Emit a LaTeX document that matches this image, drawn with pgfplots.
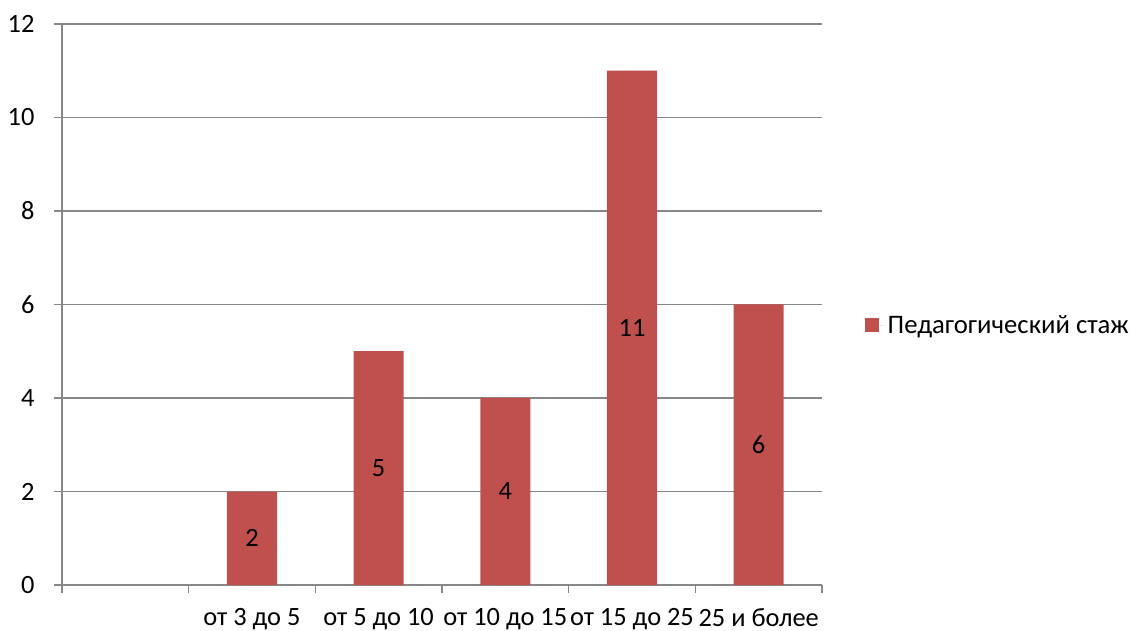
\documentclass[border=0pt]{standalone}
\usepackage{fontspec}
\setmainfont{Carlito}
\usepackage{pgfplots}
\pgfplotsset{compat=1.18}
\definecolor{barred}{HTML}{C0504D}
\definecolor{gridgray}{HTML}{878787}
\begin{document}
\begin{tikzpicture}[x=1bp,y=1bp]
\begin{axis}[
    scale only axis,
    at={(0,0)}, anchor=south west,
    width=760bp, height=561bp,
    xmin=-0.5, xmax=5.5,
    ymin=0, ymax=12,
    ytick={0,2,...,12},
    xtick={-0.5,0.5,...,5.5},
    xticklabels={},
    extra x ticks={1,2,3,4,5},
    extra x tick labels={от 3 до 5,от 5 до 10,от 10 до 15,от 15 до 25,25 и более},
    extra x tick style={major tick length=0pt, grid=none},
    axis lines*=left,
    axis line style={gridgray, line width=1.5pt},
    ymajorgrids=true,
    grid style={gridgray, line width=1.5pt},
    tick style={gridgray, line width=1.5pt},
    tick align=outside,
    major tick length=8bp,
    font=\fontsize{26.5}{30}\selectfont,
    tick label style={font=\fontsize{26.5}{30}\selectfont},
    /pgf/number format/assume math mode=true,
    xticklabel style={yshift=-20bp, inner xsep=0pt},
    yticklabel style={xshift=-16bp},
    legend style={at={(1.052,0.463)}, anchor=west, draw=none, fill=none,
        font=\fontsize{26.8}{30}\selectfont},
    legend image code/.code={\path (0bp,0bp) -- (21bp,0bp);
        \fill[barred] (0bp,-7bp) rectangle (14bp,7bp);},
]
\addplot[ybar, bar width=0.395, fill=barred, draw=none]
    coordinates {(1,2) (2,5) (3,4) (4,11) (5,6)};
\addlegendentry{Педагогический стаж}
\addplot[draw=none, mark=none, forget plot,
    nodes near coords, point meta=explicit symbolic,
    every node near coord/.append style={anchor=center, font=\fontsize{26.5}{30}\selectfont, text=black}]
    table[x=x, y expr=\thisrow{v}/2, meta=v] {
    x v
    1 2
    2 5
    3 4
    4 11
    5 6
    };
\end{axis}
\pgfresetboundingbox
\path[use as bounding box] (-62bp,-46bp) rectangle (1069bp,585bp);
\end{tikzpicture}
\end{document}
